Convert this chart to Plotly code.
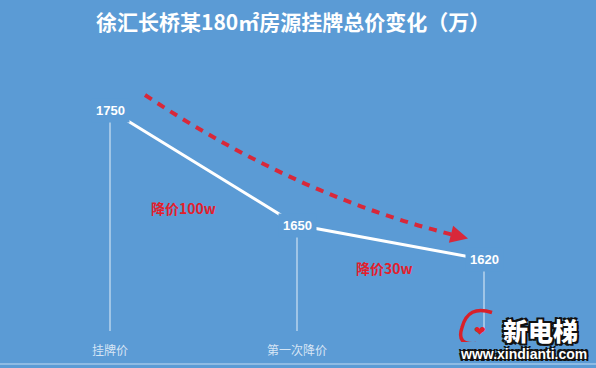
import plotly.graph_objects as go

# ---- data ----
categories = ["挂牌价", "第一次降价", "第二次降价"]
prices = [1750, 1650, 1620]
drop_labels = ["降价100w", "降价30w"]
title_text = "徐汇长桥某180㎡房源挂牌总价变化（万）"
n_visible_ticks = 2   # third category label is hidden under the watermark in the source

# ---- layout constants (pixels) ----
W, H = 596, 368
MB = 26
PLOT_H = H - MB
X0_PX = 110          # pixel x of first category
PX_PER_CAT = 187
Y0_PX = 110          # pixel y of first value
PX_PER_UNIT = 1.15
BG = "#5b9bd5"
RED = "#d8283a"

xr = [-X0_PX / PX_PER_CAT, (W - X0_PX) / PX_PER_CAT]
yr = [prices[0] - (PLOT_H - Y0_PX) / PX_PER_UNIT, prices[0] + Y0_PX / PX_PER_UNIT]


def dx(px):  # pixel offset -> x data offset
    return px / PX_PER_CAT


def dy(px):  # pixel offset (down positive) -> y data offset
    return -px / PX_PER_UNIT


def paper_xy(px, py):  # absolute pixel -> paper coords of plot area
    return px / W, (PLOT_H - py) / PLOT_H


xs = list(range(len(categories)))
fig = go.Figure()

# drop lines
base_val = yr[0] + (PLOT_H - 331) / PX_PER_UNIT
vx, vy = [], []
for x, v in zip(xs, prices):
    vx += [x, x, None]
    vy += [v, base_val, None]
fig.add_trace(go.Scatter(x=vx, y=vy, mode="lines",
                         line=dict(color="rgba(255,255,255,0.65)", width=1.3),
                         hoverinfo="skip", showlegend=False))

# main price line
fig.add_trace(go.Scatter(x=xs, y=prices, mode="lines",
                         line=dict(color="white", width=3),
                         hoverinfo="skip", showlegend=False))

# dashed trend curve (relative to data points)
p0 = (xs[0] + dx(35), prices[0] + dy(-15))
p1 = (xs[1] + dx(3), prices[1] + dy(-27))
p2 = (xs[2] + dx(-24), prices[2] + dy(-23))
fig.add_shape(type="path",
              path=f"M {p0[0]},{p0[1]} Q {p1[0]},{p1[1]} {p2[0]},{p2[1]}",
              xref="x", yref="y",
              line=dict(color=RED, width=4, dash="8px,7px"))

annotations = []
# arrow head
annotations.append(dict(x=xs[2] + dx(-16), y=prices[2] + dy(-21), xref="x", yref="y",
                        text="", showarrow=True, ax=-12, ay=-3,
                        arrowhead=2, arrowsize=1.0, arrowwidth=3.5, arrowcolor=RED))

# value labels (masking the line)
for x, v in zip(xs, prices):
    annotations.append(dict(x=x, y=v, xref="x", yref="y", text=str(v), showarrow=False,
                            font=dict(family="Liberation Sans, Arial", size=13, color="white",
                                      weight="bold"),
                            bgcolor=BG, borderpad=4))

# drop annotations
drop_pos = [((xs[0] + xs[1]) / 2 + dx(-20), (prices[0] + prices[1]) / 2 + dy(40)),
            ((xs[1] + xs[2]) / 2 + dx(-6), (prices[1] + prices[2]) / 2 + dy(26))]
for (x, y), t in zip(drop_pos, drop_labels):
    annotations.append(dict(x=x, y=y, xref="x", yref="y", text=t, showarrow=False,
                            font=dict(family="Noto Sans CJK SC", size=14, color="#e3202c",
                                      weight="bold")))

# title
annotations.append(dict(x=293 / W, y=1 - 23 / H, xref="paper", yref="paper",
                        text=title_text, showarrow=False, yanchor="middle", xanchor="center",
                        font=dict(family="Noto Sans CJK SC", size=21, color="white",
                                  weight="bold")))

# watermark
outline = ("1px 1px 0 #111, -1px -1px 0 #111, 1px -1px 0 #111, -1px 1px 0 #111, "
           "2px 2px 0 #111, -2px 2px 0 #111, 2px -2px 0 #111, -2px -2px 0 #111")
wx, wy = paper_xy(540, 330)
annotations.append(dict(x=wx, y=wy, xref="paper", yref="paper", xanchor="center",
                        yanchor="middle", text="新电梯", showarrow=False,
                        font=dict(family="Noto Sans CJK SC", size=25, color="white",
                                  weight=900, shadow=outline)))
wx, wy = paper_xy(523, 354)
annotations.append(dict(x=wx, y=wy, xref="paper", yref="paper", xanchor="center",
                        yanchor="middle", text="www.xindianti.com", showarrow=False,
                        font=dict(family="Liberation Sans, Arial", size=14, color="white",
                                  weight="bold", shadow=outline)))
hx, hy = paper_xy(480, 331)
annotations.append(dict(x=hx, y=hy, xref="paper", yref="paper", xanchor="center",
                        yanchor="middle", text="❤", showarrow=False,
                        font=dict(family="DejaVu Sans", size=14, color="#e0202a")))
lp = [(xs[2] + dx(8), prices[2] + dy(53)), (xs[2] + dx(-16), prices[2] + dy(45)),
      (xs[2] + dx(-22), prices[2] + dy(68)), (xs[2] + dx(-28), prices[2] + dy(86)),
      (xs[2] + dx(-8), prices[2] + dy(84))]
fig.add_shape(type="path",
              path=(f"M {lp[0][0]},{lp[0][1]} Q {lp[1][0]},{lp[1][1]} {lp[2][0]},{lp[2][1]} "
                    f"Q {lp[3][0]},{lp[3][1]} {lp[4][0]},{lp[4][1]}"),
              xref="x", yref="y", line=dict(color="#d8202a", width=3.5))

# light bottom edge
fig.add_shape(type="line", xref="paper", yref="paper", x0=0, x1=1,
              y0=-(364 - PLOT_H) / PLOT_H, y1=-(364 - PLOT_H) / PLOT_H,
              line=dict(color="rgba(220,235,250,0.8)", width=1))

fig.update_layout(
    width=W, height=H,
    margin=dict(l=0, r=0, t=0, b=MB),
    paper_bgcolor=BG, plot_bgcolor=BG,
    showlegend=False,
    annotations=annotations,
    xaxis=dict(range=xr, tickvals=xs[:n_visible_ticks],
               ticktext=categories[:n_visible_ticks], showgrid=False,
               zeroline=False, showline=False, ticks="",
               tickfont=dict(family="Noto Sans CJK SC", size=12,
                             color="rgba(230,240,250,0.9)"),
               fixedrange=True),
    yaxis=dict(range=yr, visible=False, fixedrange=True),
)

fig.write_html("out.html")
